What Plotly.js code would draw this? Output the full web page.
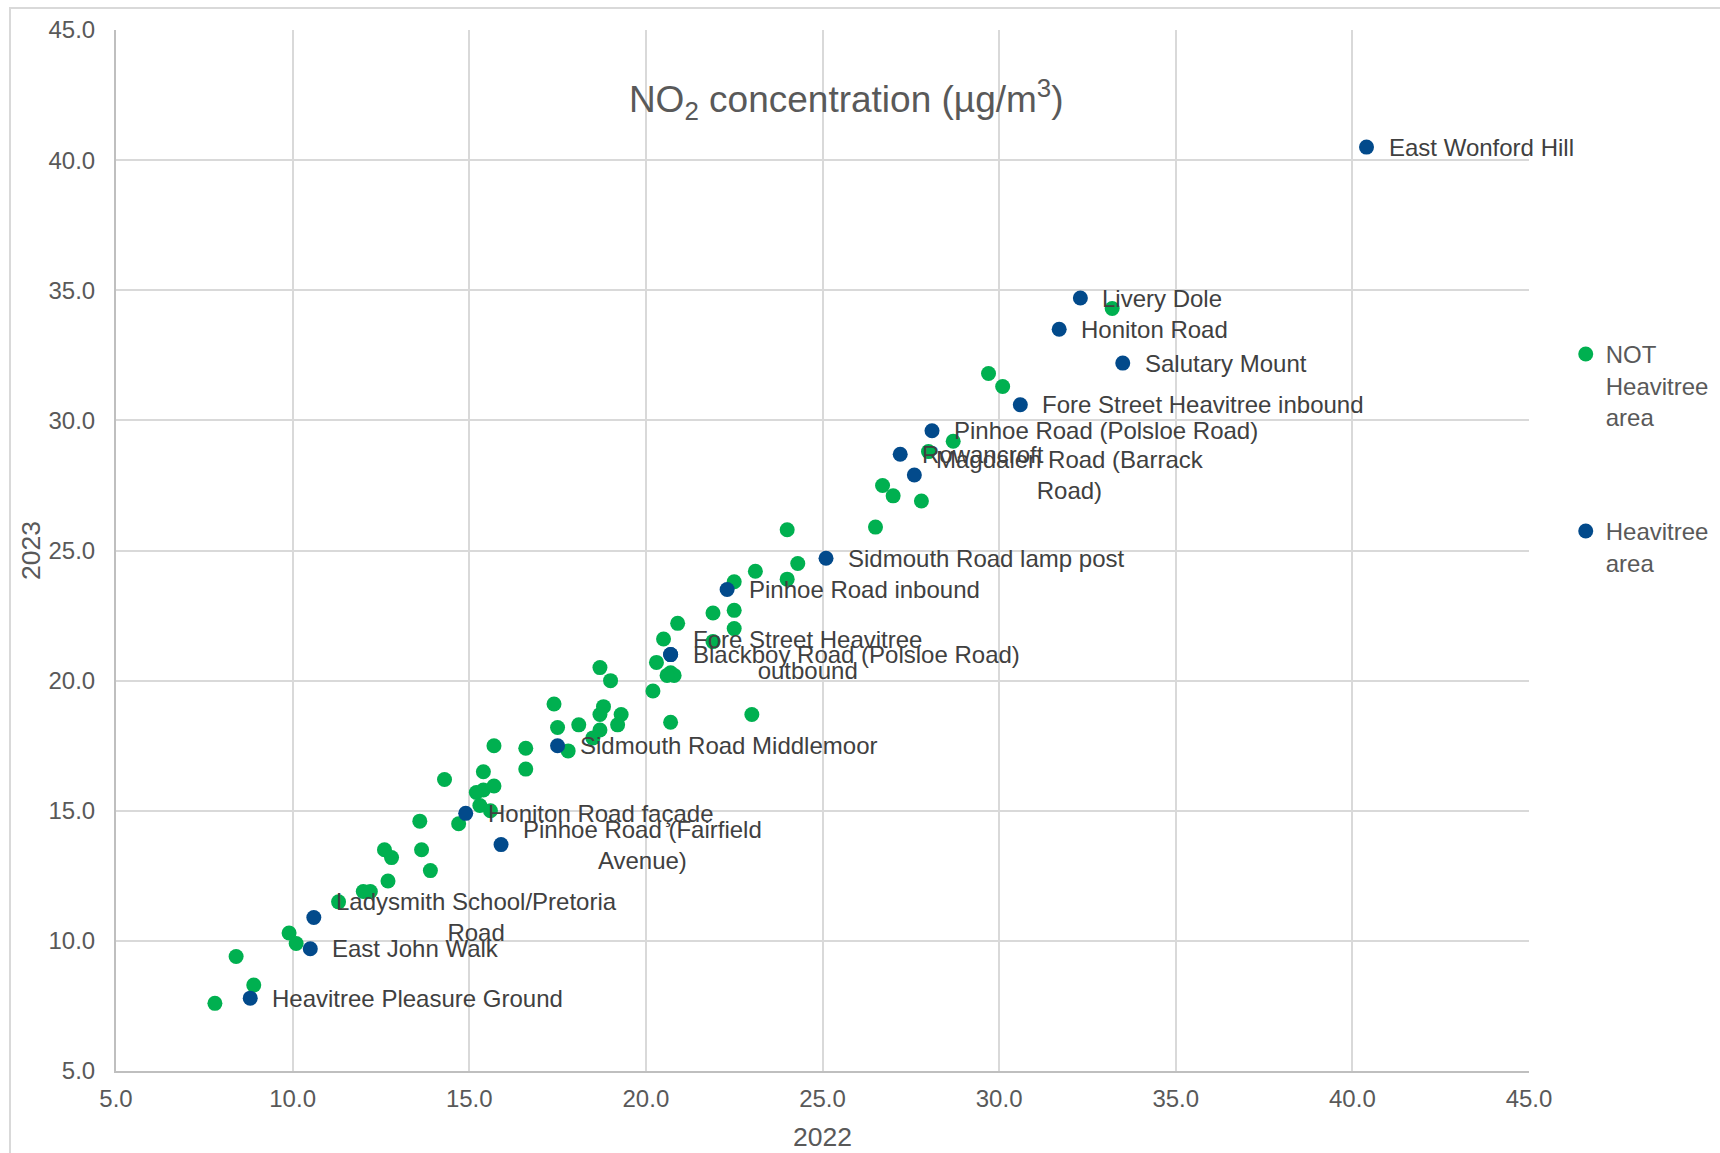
<!DOCTYPE html>
<html><head><meta charset="utf-8">
<script src="https://cdn.plot.ly/plotly-3.0.1.min.js"></script>
<style>
html,body{margin:0;padding:0;width:1720px;height:1153px;overflow:hidden;background:#fff;}
#chart{position:absolute;left:0;top:0;width:1720px;height:1153px;}
#frame{position:absolute;left:9px;top:7px;width:1780px;height:1220px;border:2px solid #d9d9d9;pointer-events:none;box-sizing:border-box;}
</style></head><body>
<div id="chart"></div><div id="frame"></div>
<script>
// ---- data ----
const seriesNames = ['NOT<br>Heavitree<br>area', 'Heavitree<br>area'];

const notHeavitree2022 = [33.2, 29.7, 30.1, 28.7, 28.0, 26.7, 27.0, 27.8, 26.5, 24.0,
  24.3, 23.1, 24.0, 22.5, 21.9, 22.5, 20.9, 22.5, 20.5, 21.9,
  20.3, 20.7, 20.8, 20.6, 20.2, 19.0, 18.7, 17.4, 18.8, 18.7,
  19.3, 18.1, 19.2, 18.7, 18.5, 20.7, 23.0, 17.5, 17.8, 16.6,
  16.6, 15.7, 15.4, 14.3, 15.7, 15.4, 15.2, 15.3, 15.6, 14.7,
  13.6, 13.65, 12.6, 12.8, 13.9, 12.7, 12.0, 12.2, 11.3, 9.9,
  10.1, 8.4, 8.9, 7.8];
const notHeavitree2023 = [34.3, 31.8, 31.3, 29.2, 28.8, 27.5, 27.1, 26.9, 25.9, 25.8,
  24.5, 24.2, 23.9, 23.8, 22.6, 22.7, 22.2, 22.0, 21.6, 21.5,
  20.7, 20.3, 20.2, 20.2, 19.6, 20.0, 20.5, 19.1, 19.0, 18.7,
  18.7, 18.3, 18.3, 18.1, 17.8, 18.4, 18.7, 18.2, 17.3, 17.4,
  16.6, 17.5, 16.5, 16.2, 15.95, 15.8, 15.7, 15.2, 15.0, 14.5,
  14.6, 13.5, 13.5, 13.2, 12.7, 12.3, 11.9, 11.9, 11.5, 10.3,
  9.9, 9.4, 8.3, 7.6];

const heavitreeSites = ['East Wonford Hill', 'Livery Dole', 'Honiton Road', 'Salutary Mount',
  'Fore Street Heavitree inbound', 'Pinhoe Road (Polsloe Road)', 'Rowancroft',
  'Magdalen Road (Barrack Road)', 'Sidmouth Road lamp post', 'Pinhoe Road inbound',
  'Fore Street Heavitree outbound', 'Blackboy Road (Polsloe Road)', 'Sidmouth Road Middlemoor',
  'Honiton Road façade', 'Pinhoe Road (Fairfield Avenue)', 'Ladysmith School/Pretoria Road',
  'East John Walk', 'Heavitree Pleasure Ground'];
const heavitreeLabels = ['East Wonford Hill', 'Livery Dole', 'Honiton Road', 'Salutary Mount',
  'Fore Street Heavitree inbound', 'Pinhoe Road (Polsloe Road)', 'Rowancroft',
  'Magdalen Road (Barrack<br>Road)', 'Sidmouth Road lamp post', 'Pinhoe Road inbound',
  'Fore Street Heavitree<br>outbound', 'Blackboy Road (Polsloe Road)', 'Sidmouth Road Middlemoor',
  'Honiton Road façade', 'Pinhoe Road (Fairfield<br>Avenue)', 'Ladysmith School/Pretoria<br>Road',
  'East John Walk', 'Heavitree Pleasure Ground'];
const heavitree2022 = [40.4, 32.3, 31.7, 33.5, 30.6, 28.1, 27.2, 27.6, 25.1, 22.3,
  20.7, 20.7, 17.5, 14.9, 15.9, 10.6, 10.5, 8.8];
const heavitree2023 = [40.5, 34.7, 33.5, 32.2, 30.6, 29.6, 28.7, 27.9, 24.7, 23.5,
  21.0, 21.0, 17.5, 14.9, 13.7, 10.9, 9.7, 7.8];

const tickValues = [5, 10, 15, 20, 25, 30, 35, 40, 45];
const tickLabels = ['5.0', '10.0', '15.0', '20.0', '25.0', '30.0', '35.0', '40.0', '45.0'];

// ---- styles ----
const FONT = 'Liberation Sans, Arial, sans-serif';
const GREEN = '#00b050';
const BLUE = '#024a8b';

const traces = [
  {type: 'scatter', mode: 'markers', name: seriesNames[0], legend: 'legend',
   x: notHeavitree2022, y: notHeavitree2023,
   marker: {color: GREEN, size: 15, line: {width: 0}}, hoverinfo: 'x+y'},
  {type: 'scatter', mode: 'markers', name: seriesNames[1], legend: 'legend2',
   x: heavitree2022, y: heavitree2023, text: heavitreeSites,
   marker: {color: BLUE, size: 15, line: {width: 0}}, hoverinfo: 'text+x+y'}
];

const annotations = heavitreeLabels.map((t, i) => ({
  x: heavitree2022[i], y: heavitree2023[i], xref: 'x', yref: 'y',
  text: t, showarrow: false, xanchor: 'left', yanchor: 'middle', xshift: 20,
  align: 'center', font: {family: FONT, size: 24, color: '#404040'}
}));

const axisCommon = {
  range: [5, 45], tickmode: 'array', tickvals: tickValues, ticktext: tickLabels,
  showgrid: true, gridcolor: '#d9d9d9', gridwidth: 2, zeroline: false,
  showline: true, linecolor: '#bfbfbf', linewidth: 2, ticks: '',
  tickfont: {family: FONT, size: 24, color: '#595959'}, automargin: false, fixedrange: true
};

const legendCommon = {
  xref: 'paper', yref: 'paper', xanchor: 'left', yanchor: 'top', valign: 'top',
  bgcolor: 'rgba(0,0,0,0)', borderwidth: 0,
  font: {family: FONT, size: 24, color: '#595959'}
};

const layout = {
  width: 1720, height: 1153,
  paper_bgcolor: '#ffffff', plot_bgcolor: '#ffffff',
  margin: {l: 116, r: 191, t: 30, b: 82, autoexpand: false},
  title: {text: 'NO<sub>2</sub> concentration (µg/m<sup>3</sup>)', xref: 'container', yref: 'container',
          x: 0.492, y: 0.914, xanchor: 'center', yanchor: 'middle',
          font: {family: FONT, size: 37, color: '#595959'}},
  xaxis: Object.assign({}, axisCommon, {
    ticklabelstandoff: 5,
    title: {text: '2022', standoff: 17, font: {family: FONT, size: 26.5, color: '#595959'}}
  }),
  yaxis: Object.assign({}, axisCommon, {
    ticklabelstandoff: 14,
    title: {text: '2023', standoff: 0, font: {family: FONT, size: 26.5, color: '#595959'}}
  }),
  showlegend: true,
  legend: Object.assign({}, legendCommon, {x: 1.026, y: 0.710}),
  legend2: Object.assign({}, legendCommon, {x: 1.026, y: 0.540}),
  annotations: annotations,
  hovermode: 'closest'
};

Plotly.newPlot('chart', traces, layout, {displayModeBar: false, responsive: false});
</script>
</body></html>
